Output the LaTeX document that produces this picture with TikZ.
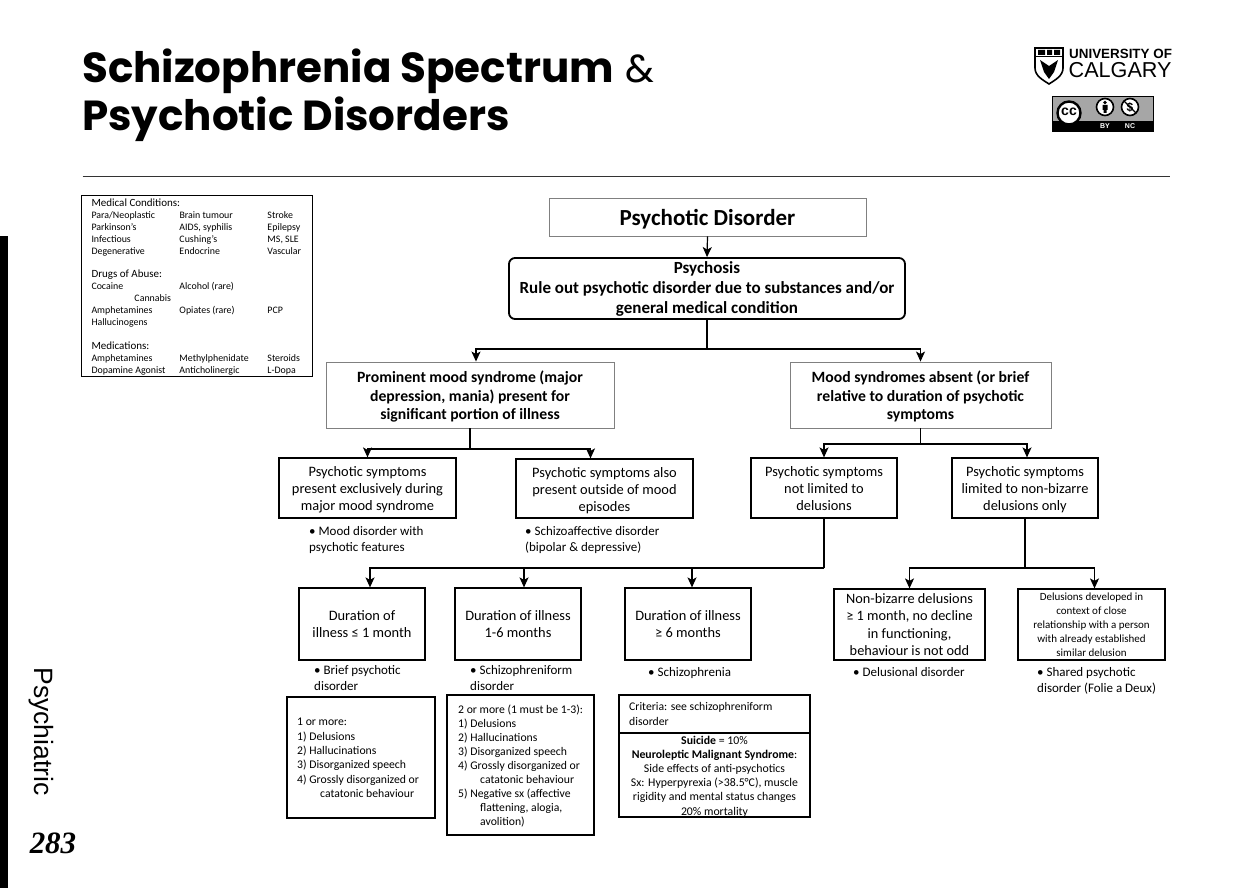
\documentclass[tikz,border=0pt]{standalone}
\usepackage{fontspec}
\setmainfont{Carlito}
\newfontfamily\titlefont{Poppins}
\newfontfamily\arialfont{Liberation Sans}
\newfontfamily\timesfont{Liberation Serif}
\usepackage{array}
\usetikzlibrary{arrows.meta,positioning,calc}
\newcommand{\fs}[2]{\fontsize{#1}{#2}\selectfont}
\newcommand{\tp}[1]{\rule{0pt}{#1pt}}

\begin{document}
\begin{tikzpicture}[x=1pt, y=-1pt,
	cell/.style={draw, line width=1.2pt, inner sep=0pt, align=center, font=\fs{14.4}{17}},
	greycell/.style={cell, draw=black!50, line width=0.9pt, font=\fs{15.7}{18.5}\bfseries},
	note/.style={anchor=north west, inner sep=0pt, align=left, font=\fs{13}{16}},
	crit/.style={draw, line width=1.2pt, inner sep=0pt, align=left, font=\fs{11.7}{14.2}},
	link/.style={line width=1.2pt},
	arrow/.style={link, -{Stealth[length=10pt,width=9pt,inset=2.5pt]}}]
	\useasboundingbox (0,0) rectangle (1254,888);

	% page furniture
	\node (title1) [anchor=base west, inner sep=0pt, font=\titlefont\fs{42}{48}] at (82,83) {\textbf{Schizophrenia Spectrum} {\fs{39}{48}\&}};
	\node (title2) [anchor=base west, inner sep=0pt, font=\titlefont\fs{42}{48}] at (82,131) {\textbf{Psychotic Disorders}};
	\node (tl) at (82,176) [inner sep=0pt] {};
	\node (tr) at (1171,176) [inner sep=0pt] {};
	\draw [black!80, line width=0.8pt] (tl) -- (tr);
	\fill (0,236) rectangle (8,888);
	\node (chapter) [rotate=-90, inner sep=0pt, font=\arialfont\fs{26.5}{26.5}] at (41,731.5) {Psychiatric};
	\node (page) [inner sep=0pt, font=\timesfont\fs{31}{31}\bfseries\itshape] at (53,843) {283};

	% logo
	\draw [line width=1.6pt, fill=white] (1035,48) -- (1063,48) -- (1063,68) .. controls (1063,76) and (1055,80) .. (1049,84) .. controls (1043,80) and (1035,76) .. (1035,68) -- cycle;
	\draw [line width=1pt] (1035,57) -- (1063,57);
	\fill (1038,50) rectangle (1045,55) (1047,50) rectangle (1052,55) (1054,50) rectangle (1060,55);
	\fill (1040,60) -- (1049,66) -- (1058,60) -- (1054,72) -- (1049,79) -- (1044,72) -- cycle;
	\node (uni) [anchor=base west, inner sep=0pt, font=\arialfont\fs{13.4}{14}\bfseries] at (1069,59) {UNIVERSITY OF};
	\node (calgary) [anchor=base west, inner sep=0pt, font=\arialfont\fs{21.6}{23}] at (1068.5,78) {CALGARY};

	\fill [black!35, draw=black, line width=0.6pt] (1052,96) rectangle (1153,131);
	\fill (1052,121) rectangle (1153,131);
	\draw [line width=2.4pt, fill=white] (1069,113) circle (11.5);
	\node (cc) [inner sep=0pt, font=\arialfont\fs{14}{14}\bfseries] at (1069,112) {cc};
	\draw [line width=1.6pt, fill=white] (1105,107) circle (8.5);
	\fill (1105,102.5) circle (1.8);
	\fill (1102.5,105) rectangle (1107.5,110) (1103.5,110) rectangle (1106.5,113);
	\draw [line width=1.6pt, fill=white] (1130,107) circle (8.5);
	\node (dollar) [inner sep=0pt, font=\arialfont\fs{12}{12}\bfseries] at (1130,107) {\$};
	\draw [line width=1.2pt] (1124,101) -- (1136,113);
	\node (by) [text=white, inner sep=0pt, font=\arialfont\fs{7}{7}\bfseries] at (1105,126) {BY};
	\node (nc) [text=white, inner sep=0pt, font=\arialfont\fs{7}{7}\bfseries] at (1130,126) {NC};

	% causes
	\node (causes) at (196.5,286) [draw, line width=1pt, minimum width=231, minimum height=180, inner sep=0pt, font=\fs{9.9}{11.9}] {%
		\raisebox{-1.5pt}[\height][\depth]{\begin{tabular}{@{}p{88pt}@{}p{88pt}@{}p{34pt}@{}}
			\multicolumn{3}{@{}l}{\fs{11}{11.9}Medical Conditions:}\\
			Para/Neoplastic & Brain tumour & Stroke\\
			Parkinson's & AIDS, syphilis & Epilepsy\\
			Infectious & Cushing's & MS, SLE\\
			Degenerative & Endocrine & Vascular\\
			\\
			\multicolumn{3}{@{}l}{\fs{11}{11.9}Drugs of Abuse:}\\
			Cocaine & Alcohol (rare) & \\
			\hspace*{43pt}Cannabis & & \\
			Amphetamines & Opiates (rare) & PCP\\
			Hallucinogens & & \\
			\\
			\multicolumn{3}{@{}l}{\fs{11}{11.9}Medications:}\\
			Amphetamines & Methylphenidate & Steroids\\
			Dopamine Agonist & Anticholinergic & L-Dopa
		\end{tabular}}};

	% top of the tree
	\node (disorder) at (707.5,217) [greycell, font=\fs{23}{24}\bfseries, minimum width=317, minimum height=38] {\tp{20}Psychotic Disorder};
	\node (psychosis) at (707,288.5) [cell, rounded corners=6pt, line width=1.8pt, font=\fs{17}{20}\bfseries, minimum width=396, minimum height=61] {Psychosis\\Rule out psychotic disorder due to substances and/or\\general medical condition};
	\node (mood) at (470,395) [greycell, minimum width=288, minimum height=66] {\tp{15}Prominent mood syndrome (major\\depression, mania) present for\\significant portion of illness};
	\node (nomood) at (920.5,395) [greycell, minimum width=261, minimum height=66] {\tp{15}Mood syndromes absent (or brief\\relative to duration of psychotic\\symptoms};

	\node (exclusive) at (367.5,488) [cell, minimum width=177, minimum height=60] {\tp{14}Psychotic symptoms\\present exclusively during\\major mood syndrome};
	\node (outside) at (604.5,488.5) [cell, minimum width=177, minimum height=59] {\tp{14}Psychotic symptoms also\\present outside of mood\\episodes};
	\node (notlim) at (824,488) [cell, minimum width=146, minimum height=60] {\tp{12}Psychotic symptoms\\not limited to\\delusions};
	\node (lim) at (1025,488) [cell, minimum width=146, minimum height=60] {\tp{14}Psychotic symptoms\\limited to non-bizarre\\delusions only};

	\node (dur1) at (362,624) [cell, minimum width=126, minimum height=72] {Duration of\\illness ≤ 1 month};
	\node (dur2) at (518,624) [cell, minimum width=126, minimum height=72] {Duration of illness\\1-6 months};
	\node (dur3) at (688,624) [cell, minimum width=126, minimum height=72] {Duration of illness\\≥ 6 months};
	\node (nonbiz) at (909.5,624.5) [cell, minimum width=151, minimum height=71, font=\fs{14.3}{17.5}] {Non-bizarre delusions\\≥ 1 month, no decline\\in functioning,\\behaviour is not odd};
	\node (shared) at (1091.5,624.5) [cell, minimum width=147, minimum height=71, font=\fs{11}{14}] {Delusions developed in\\context of close\\relationship with a person\\with already established\\similar delusion};

	% diagnoses
	\node (n1) at (309,526) [note] {• Mood disorder with\\psychotic features};
	\node (n2) at (525,526) [note] {• Schizoaffective disorder\\(bipolar \& depressive)};
	\node (n3) at (314,665) [note] {• Brief psychotic\\disorder};
	\node (n4) at (470,665) [note] {• Schizophreniform\\disorder};
	\node (n5) at (648,667) [note] {• Schizophrenia};
	\node (n6) at (853,667) [note] {• Delusional disorder};
	\node (n7) at (1037,667) [note] {• Shared psychotic\\disorder (Folie a Deux)};

	% criteria
	\node (c1) at (361,757.5) [crit, minimum width=148, minimum height=121] {};
	\node (c1txt) at (297,758) [anchor=west, inner sep=0pt, align=left, font=\fs{11.7}{14.3}] {1 or more:\\1) Delusions\\2) Hallucinations\\3) Disorganized speech\\4) Grossly disorganized or\\\hspace*{23pt}catatonic behaviour};
	\node (c2) at (520.5,765) [crit, minimum width=147, minimum height=140] {};
	\node (c2txt) at (458,766) [anchor=west, inner sep=0pt, align=left, font=\fs{11.7}{14}] {2 or more (1 must be 1-3):\\1) Delusions\\2) Hallucinations\\3) Disorganized speech\\4) Grossly disorganized or\\\hspace*{22pt}catatonic behaviour\\5) Negative sx (affective\\\hspace*{22pt}flattening, alogia,\\\hspace*{22pt}avolition)};
	\node (c3) at (714.5,714) [crit, minimum width=191, minimum height=38] {};
	\node (c3txt) at (629,713.5) [anchor=west, inner sep=0pt, align=left, font=\fs{11.7}{15}] {Criteria: see schizophreniform\\disorder};
	\node (c4) at (714.5,775) [crit, minimum width=191, minimum height=84, align=center, font=\fs{11.8}{14.2}] {\tp{11}\textbf{Suicide} = 10\%\\\textbf{Neuroleptic Malignant Syndrome}:\\Side effects of anti-psychotics\\Sx: Hyperpyrexia (>38.5°C), muscle\\rigidity and mental status changes\\20\% mortality};

	% connectors
	\draw [arrow] (disorder.south) -- (psychosis.north);

	\coordinate (split1) at (707,349);
	\draw [link] (psychosis.south) -- (split1);
	\draw [arrow] (split1) -| ([xshift=6pt]mood.north);
	\draw [arrow] (split1) -| (nomood.north);

	\coordinate (split2) at (470,449);
	\draw [link] (mood.south) -- (split2);
	\draw [arrow] (split2) -| (exclusive.north);
	\draw [arrow] (split2) -| ([xshift=-14pt]outside.north);

	\coordinate (split3) at (920.5,444);
	\draw [link] (nomood.south) -- (split3);
	\draw [arrow] (split3) -| (notlim.north);
	\draw [arrow] (split3) -| ([xshift=2pt]lim.north);

	\coordinate (split4) at (824,568);
	\draw [link] (notlim.south) -- (split4);
	\draw [arrow] (split4) -| ([xshift=8pt]dur1.north);
	\draw [arrow] (split4) -| ([xshift=6pt]dur2.north);
	\draw [arrow] (split4) -| ([xshift=4pt]dur3.north);

	\coordinate (split5) at (1025,568);
	\draw [link] (lim.south) -- (split5);
	\draw [arrow] (split5) -| (nonbiz.north);
	\draw [arrow] (split5) -| ([xshift=3pt]shared.north);
\end{tikzpicture}
\end{document}
